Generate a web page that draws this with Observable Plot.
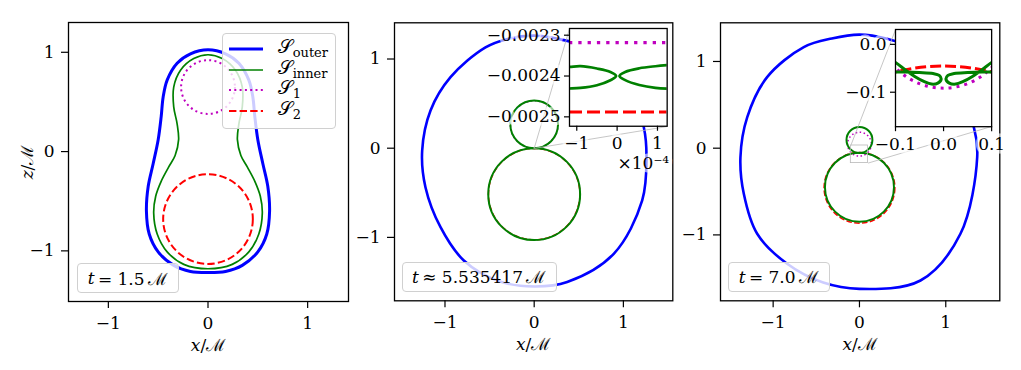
<!DOCTYPE html>
<html><head><meta charset="utf-8">
<script src="https://cdn.jsdelivr.net/npm/d3@7"></script>
<script src="https://cdn.jsdelivr.net/npm/@observablehq/plot@0.6"></script>
<style>
body{margin:0;background:#fff;}
#fig{position:relative;width:1021px;height:370px;overflow:hidden;font-family:'DejaVu Serif',serif;color:#000;}
#fig svg{position:absolute;overflow:visible;}
.box{position:absolute;background:rgba(255,255,255,0.8);border:1.3px solid #d0d0d0;border-radius:4px;box-sizing:border-box;font-size:17px;}
.tl{display:flex;align-items:center;justify-content:center;white-space:nowrap;}
.row{position:absolute;left:0;height:20px;width:100%;}
.row svg{position:absolute !important;left:5px;top:5px;}
.row span{position:absolute;left:55px;top:-4px;font-size:19px;white-space:nowrap;}
.row sub{font-size:13px;vertical-align:-4px;}
</style></head><body><div id="fig"></div><script>
// ================= DATA =================
const xTicks = [-1, 0, 1];
const zTicks = [-1, 0, 1];
const seriesNames = ["outer", "inner", "1", "2"];
const timeLabels = ["= 1.5", "\u2248 5.535417", "= 7.0"];

// Panel 1 (t = 1.5 M): traced contours [x, z]
const outer1 = [[0,1.025],[0.176,0.985],[0.31,0.89],[0.41,0.72],[0.45,0.55],[0.47,0.35],[0.50,0.12],[0.55,-0.12],[0.60,-0.35],[0.618,-0.60],[0.59,-0.83],[0.50,-1.01],[0.344,-1.146],[0.176,-1.207],[0,-1.218],[-0.176,-1.207],[-0.344,-1.146],[-0.50,-1.01],[-0.59,-0.83],[-0.618,-0.60],[-0.60,-0.35],[-0.55,-0.12],[-0.50,0.12],[-0.47,0.35],[-0.45,0.55],[-0.41,0.72],[-0.31,0.89],[-0.176,0.985]];
const inner1 = [[0,0.975],[0.143,0.937],[0.276,0.82],[0.344,0.65],[0.344,0.45],[0.31,0.28],[0.295,0.12],[0.33,-0.04],[0.394,-0.155],[0.47,-0.30],[0.525,-0.45],[0.545,-0.62],[0.51,-0.83],[0.41,-1.01],[0.243,-1.136],[0,-1.18],[-0.243,-1.136],[-0.41,-1.01],[-0.51,-0.83],[-0.545,-0.62],[-0.525,-0.45],[-0.47,-0.30],[-0.394,-0.155],[-0.33,-0.04],[-0.295,0.12],[-0.31,0.28],[-0.344,0.45],[-0.344,0.65],[-0.276,0.82],[-0.143,0.937]];
const s1Panel1 = [{x:0, z:0.65, r:0.27}];
const s2Panel1 = [{x:0, z:-0.68, r:0.45}];

// Panel 2 (t ~ 5.535417 M)
const outer2 = [[0,1.262],[-0.295,1.225],[-0.546,1.13],[-0.938,0.796],[-1.162,0.423],[-1.256,-0.03],[-1.219,-0.437],[-1.05,-0.886],[-0.789,-1.259],[-0.40,-1.49],[0,-1.55],[0.37,-1.50],[0.892,-1.184],[1.211,-0.586],[1.259,-0.10],[1.229,0.235],[1.05,0.75],[0.62,1.12],[0.295,1.22]];
const inner2 = [{x:0, z:0.2675, r:0.2675},{x:0, z:-0.515, r:0.515}];
const s1Panel2 = [{x:0, z:0.265, r:0.267}];
const s2Panel2 = [{x:0, z:-0.515, r:0.5125}];
// inset of panel 2 (x shown as x10^-4)
const inset2X = [-1.18e-4, 1.24e-4];
const inset2Z = [-0.002523, -0.0022836];
const inset2XTicks = [-1e-4, 0, 1e-4];
const inset2ZTicks = [-0.0025, -0.0024, -0.0023];
const inset2S1 = [-0.002318];
const inset2S2 = [-0.002488];
const inset2InnerLeft = [[-1.3e-4,-0.0023772],[-1.18e-4,-0.0023777],[-0.91e-4,-0.002376],[-0.5e-4,-0.0023816],[-0.166e-4,-0.00239],[-0.025e-4,-0.0024],[-0.166e-4,-0.0024103],[-0.5e-4,-0.0024225],[-0.91e-4,-0.0024292],[-1.18e-4,-0.0024306],[-1.3e-4,-0.002431]];
const inset2InnerRight = [[1.3e-4,-0.002373],[0.95e-4,-0.002376],[0.55e-4,-0.002381],[0.2e-4,-0.00239],[0.057e-4,-0.0024],[0.2e-4,-0.00241],[0.55e-4,-0.002422],[0.95e-4,-0.002429],[1.3e-4,-0.002431]];
const inset2Offset = ["\u00d710\u207b\u2074"];

// Panel 3 (t = 7.0 M)
const outer3 = [[0,1.31],[-0.32,1.265],[-0.645,1.165],[-1.07,0.819],[-1.30,0.358],[-1.379,-0.104],[-1.34,-0.526],[-1.185,-0.987],[-0.838,-1.333],[-0.42,-1.55],[0,-1.622],[0.707,-1.526],[1.17,-0.987],[1.364,-0.104],[1.325,0.242],[1.10,0.72],[0.70,1.12],[0.32,1.262]];
const inner3 = [{x:0, z:0.095, r:0.15},{x:0, z:-0.45, r:0.40}];
const s1Panel3 = [{x:0, z:0.047, r:0.138}];
const s2Panel3 = [{x:0, z:-0.457, r:0.41}];
const inset3X = [-0.1, 0.1];
const inset3Z = [-0.172, 0.031];
const inset3XTicks = [-0.1, 0, 0.1];
const inset3ZTicks = [-0.1, 0];
const inset3InnerLeft = [[-0.115,-0.030],[-0.1,-0.038],[-0.08,-0.053],[-0.06,-0.067],[-0.04,-0.078],[-0.025,-0.083],[-0.012,-0.081],[-0.005,-0.073],[-0.009,-0.065],[-0.022,-0.061],[-0.05,-0.059],[-0.08,-0.058],[-0.115,-0.058]];
const inset3InnerRight = [[0.115,-0.030],[0.1,-0.038],[0.08,-0.053],[0.06,-0.067],[0.04,-0.078],[0.025,-0.083],[0.012,-0.081],[0.005,-0.073],[0.009,-0.065],[0.022,-0.061],[0.05,-0.059],[0.08,-0.058],[0.115,-0.058]];

// ================= LAYOUT / STYLE =================
const H = 370;
const FONT = "'DejaVu Serif', serif";
const FS = "17px";
const C = {outer:"#0000ff", inner:"#008000", s1:"#bf00bf", s2:"#ff0000", conn:"#b8b8b8"};
const fig = document.getElementById("fig");
const pts = a => a.map(([x, z]) => ({x, z}));
const fInt = d => d3.format("d")(d);

function italicize(svg) {
  svg.querySelectorAll("text").forEach(t => {
    const s = t.textContent;
    if (s.includes("/\u2133")) {
      t.innerHTML = `<tspan font-style="italic">${s.trim()[0]}</tspan>/\u2133`;
    }
  });
}

function mainPanel(cfg, marks) {
  const [l, t, r, b] = cfg.frame;
  const k = (r - l) / (cfg.xDomain[1] - cfg.xDomain[0]);
  const svg = Plot.plot({
    width: cfg.svgW, height: H,
    marginLeft: l - cfg.svgLeft, marginRight: cfg.svgLeft + cfg.svgW - r,
    marginTop: t, marginBottom: H - b,
    x: {domain: cfg.xDomain}, y: {domain: cfg.yDomain},
    r: {type: "linear", domain: [0, 1], range: [0, k]},
    style: {fontFamily: FONT, fontSize: FS, background: "transparent", color: "black", overflow: "visible"},
    marks: [
      ...marks,
      Plot.frame({stroke: "black", strokeWidth: 1.3}),
      Plot.axisX({ticks: xTicks, tickFormat: fInt, tickSize: 7, tickPadding: 8, strokeWidth: 1.2,
        label: "x/\u2133", labelArrow: "none", labelAnchor: "center", labelOffset: 49}),
      Plot.axisY({ticks: zTicks, tickFormat: fInt, tickSize: 7, tickPadding: 7, strokeWidth: 1.2,
        label: cfg.yLabel ? "z/\u2133" : null, labelArrow: "none", labelAnchor: "center", labelOffset: 48})
    ]
  });
  svg.style.left = cfg.svgLeft + "px";
  svg.style.top = "0px";
  italicize(svg);
  fig.appendChild(svg);
  return svg;
}

function insetPanel(main, mainLeft, box, cfg, marks) {
  const sx = main.scale("x"), sy = main.scale("y");
  const px0 = sx.apply(box.x0), px1 = sx.apply(box.x1), py0 = sy.apply(box.top), py1 = sy.apply(box.bottom);
  const m = cfg.margins; // [l, t, r, b]
  const k = (px1 - px0) / (cfg.xDomain[1] - cfg.xDomain[0]);
  const halo = {textStroke: "white", textStrokeWidth: 7, textStrokeOpacity: 0.6};
  const svg = Plot.plot({
    width: px1 - px0 + m[0] + m[2], height: py1 - py0 + m[1] + m[3],
    marginLeft: m[0], marginTop: m[1], marginRight: m[2], marginBottom: m[3],
    x: {domain: cfg.xDomain}, y: {domain: cfg.yDomain},
    r: {type: "linear", domain: [0, 1], range: [0, k]},
    style: {fontFamily: FONT, fontSize: FS, background: "transparent", color: "black", overflow: "visible"},
    marks: [
      Plot.frame({fill: "white", stroke: null}),
      ...marks,
      Plot.frame({stroke: "black", strokeWidth: 1.3}),
      Plot.axisX({ticks: cfg.xTicks, tickFormat: cfg.xFormat, tickSize: 5, tickPadding: 6, strokeWidth: 1.2, label: null, ...halo}),
      Plot.axisY({ticks: cfg.yTicks, tickFormat: cfg.yFormat, tickSize: 5, tickPadding: 4, strokeWidth: 1.2, label: null, ...halo}),
      ...(cfg.extra || [])
    ]
  });
  svg.style.left = (mainLeft + px0 - m[0]) + "px";
  svg.style.top = (py0 - m[1]) + "px";
  fig.appendChild(svg);
  return svg;
}

const lineMark = (data, stroke, w, curve = "catmull-rom-closed", extra = {}) =>
  Plot.line(pts(data), {x: "x", y: "z", curve, stroke, strokeWidth: w, ...extra});
const circleMark = (data, stroke, w, dash, extra = {}) =>
  Plot.dot(data, {x: "x", y: "z", r: "r", stroke, fill: "none", strokeWidth: w, strokeDasharray: dash, ...extra});

// ---------- Panel 1 ----------
mainPanel({svgLeft: 0, svgW: 352, frame: [68, 22, 348, 301], xDomain: [-1.4, 1.41], yDomain: [-1.51, 1.30], yLabel: true}, [
  circleMark(s1Panel1, C.s1, 2, "2,3.3"),
  circleMark(s2Panel1, C.s2, 2, "7.4,3.2"),
  lineMark(inner1, C.inner, 1.7),
  lineMark(outer1, C.outer, 3)
]);

// ---------- Panel 2 ----------
const box2 = {x0: 0.396, x1: 1.491, top: 1.339, bottom: 0.243};
const conn2 = [
  {x1: inset2X[0], y1: inset2Z[1], x2: box2.x0, y2: box2.top},
  {x1: inset2X[1], y1: inset2Z[0], x2: box2.x1, y2: box2.bottom}
];
const main2 = mainPanel({svgLeft: 340, svgW: 337, frame: [394, 22.3, 672.3, 300.3], xDomain: [-1.566, 1.554], yDomain: [-1.711, 1.406]}, [
  circleMark(s1Panel2, C.s1, 1.5, "1.5,2.5"),
  circleMark(s2Panel2, C.s2, 1.5, "5.5,2.4"),
  circleMark(inner2, C.inner, 2, null),
  lineMark(outer2, C.outer, 2.6),
  Plot.rect([{x1: inset2X[0], x2: inset2X[1], y1: inset2Z[0], y2: inset2Z[1]}], {x1: "x1", x2: "x2", y1: "y1", y2: "y2", stroke: C.conn, fill: "none", strokeWidth: 0.8}),
  Plot.link(conn2, {x1: "x1", y1: "y1", x2: "x2", y2: "y2", stroke: C.conn, strokeWidth: 0.8})
]);
insetPanel(main2, 340, box2, {
  margins: [90, 5, 12, 60], xDomain: inset2X, yDomain: inset2Z,
  xTicks: inset2XTicks, yTicks: inset2ZTicks,
  xFormat: d => d3.format("d")(Math.round(d * 1e4)), yFormat: d3.format(".4f"),
  extra: [Plot.text(inset2Offset, {frameAnchor: "bottom-right", text: d => d, dy: 43, dx: 2, textAnchor: "end", stroke: "white", strokeWidth: 7, strokeOpacity: 0.6, fill: "black"})]
}, [
  Plot.ruleY(inset2S1, {y: d => d, stroke: C.s1, strokeWidth: 3.3, strokeDasharray: "3.3,6", clip: true}),
  Plot.ruleY(inset2S2, {y: d => d, stroke: C.s2, strokeWidth: 3, strokeDasharray: "13,5", clip: true}),
  lineMark(inset2InnerLeft, C.inner, 2.7, "catmull-rom", {clip: true}),
  lineMark(inset2InnerRight, C.inner, 2.7, "catmull-rom", {clip: true})
]);

// ---------- Panel 3 ----------
const box3 = {x0: 0.42, x1: 1.534, top: 1.372, bottom: 0.251};
const conn3 = [
  {x1: inset3X[0], y1: inset3Z[1], x2: box3.x0, y2: box3.top},
  {x1: inset3X[1], y1: inset3Z[0], x2: box3.x1, y2: box3.bottom}
];
const main3 = mainPanel({svgLeft: 670, svgW: 340, frame: [720, 22.3, 999.3, 300.3], xDomain: [-1.61, 1.626], yDomain: [-1.76, 1.446]}, [
  circleMark(s1Panel3, C.s1, 1.5, "1.5,2.5"),
  circleMark(s2Panel3, C.s2, 1.5, "5.5,2.4"),
  circleMark(inner3, C.inner, 2, null),
  lineMark(outer3, C.outer, 2.6),
  Plot.rect([{x1: inset3X[0], x2: inset3X[1], y1: inset3Z[0], y2: inset3Z[1]}], {x1: "x1", x2: "x2", y1: "y1", y2: "y2", stroke: C.conn, fill: "none", strokeWidth: 0.8}),
  Plot.link(conn3, {x1: "x1", y1: "y1", x2: "x2", y2: "y2", stroke: C.conn, strokeWidth: 0.8})
]);
insetPanel(main3, 670, box3, {
  margins: [60, 5, 15, 45], xDomain: inset3X, yDomain: inset3Z,
  xTicks: inset3XTicks, yTicks: inset3ZTicks,
  xFormat: d3.format(".1f"), yFormat: d3.format(".1f")
}, [
  circleMark(s1Panel3, C.s1, 3, "3,5", {clip: true}),
  circleMark(s2Panel3, C.s2, 3, "11,4", {clip: true}),
  lineMark(inset3InnerLeft, C.inner, 3, "catmull-rom", {clip: true}),
  lineMark(inset3InnerRight, C.inner, 3, "catmull-rom", {clip: true})
]);

// ---------- time labels ----------
const tBoxes = [[76.7, 263, 102.3], [401.7, 261.7, 155], [727.7, 261.7, 102.3]];
timeLabels.forEach((s, i) => {
  const [l, t, w] = tBoxes[i];
  const d = document.createElement("div");
  d.className = "box tl";
  d.style.cssText += `left:${l}px;top:${t}px;width:${w}px;height:30px;`;
  d.innerHTML = `<i>t</i>&thinsp;${s}&thinsp;\u2133`;
  fig.appendChild(d);
});

// ---------- legend (panel 1) ----------
const legendStyle = [
  {c: C.outer, w: 3, dash: null},
  {c: C.inner, w: 1.7, dash: null},
  {c: C.s1, w: 2, dash: "2,3.3"},
  {c: C.s2, w: 2, dash: "7.4,3.2"}
];
const leg = document.createElement("div");
leg.className = "box";
leg.style.cssText += "left:221.7px;top:33.3px;width:114.3px;height:96px;";
seriesNames.forEach((n, i) => {
  const st = legendStyle[i];
  const row = document.createElement("div");
  row.className = "row";
  row.style.top = (5 + i * 20.6) + "px";
  row.innerHTML = `<svg width="36" height="10"><line x1="1" x2="35" y1="5" y2="5" stroke="${st.c}" stroke-width="${st.w}" ${st.dash ? `stroke-dasharray="${st.dash}"` : ""}/></svg><span>\u{1D4AE}<sub>${n}</sub></span>`;
  leg.appendChild(row);
});
fig.appendChild(leg);
</script></body></html>
